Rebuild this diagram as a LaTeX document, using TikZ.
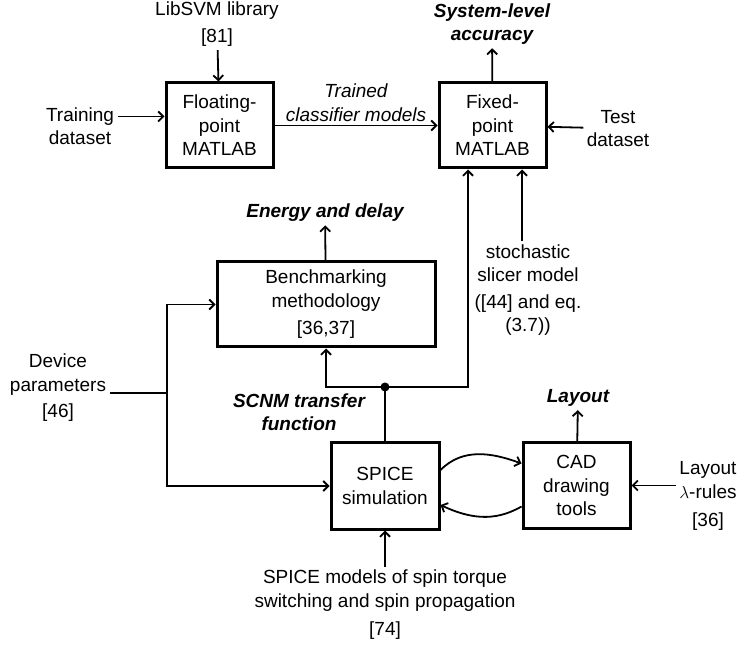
\documentclass[tikz,border=0pt]{standalone}
\usepackage{fontspec}
\setmainfont{Liberation Sans}
\usetikzlibrary{arrows.meta}

\begin{document}
\begin{tikzpicture}[x=1pt, y=-1pt, every node/.style={font=\fontsize{19}{23.5}\selectfont, align=center},
 box/.style={draw, line width=3pt, minimum width=107pt, minimum height=85pt, inner sep=2pt},
 arr/.style={-{Straight Barb[length=5pt,width=10pt,line width=1.8pt]}, line width=1.8pt},
 res/.style={font=\fontsize{19}{23.5}\selectfont\bfseries\itshape}]
\useasboundingbox (0,0) rectangle (740,647);
% blocks
\node[box] (float) at (219.5,125.5) {Floating-\\point\\MATLAB};
\node[box] (fixed) at (492.5,125.5) {Fixed-\\point\\MATLAB};
\node[box, minimum width=218pt] (bench) at (326,304.5) {Benchmarking\\methodology\\[4pt][36,37]};
\node[box, minimum width=108pt, minimum height=86pt] (spice) at (385,486) {SPICE\\simulation};
\node[box] (cad) at (576.5,485.5) {CAD\\drawing\\tools};
% inputs and results
\node (libsvm) at (217,24) {LibSVM library\\[4pt][81]};
\node (train) at (80,126) {Training\\dataset};
\node[res] (sysacc) at (492,24) {System-level\\accuracy};
\node (test) at (618,128.5) {Test\\dataset};
\node[res] (energy) at (325,213) {Energy and delay};
\node (device) at (58,388) {Device\\parameters\\[3pt][46]};
\node[res] (scnm) at (299,412) {SCNM transfer\\function};
\node (stoch) at (528,290) {stochastic\\slicer model\\[3pt]([44] and eq.\\(3.7))};
\node (spicemod) at (385,605) {SPICE models of spin torque\\switching and spin propagation\\[5pt][74]};
\node[res] (layout) at (578,398) {Layout};
\node (rules) at (708,496) {Layout\\$\lambda$-rules\\[5pt][36]};
\coordinate (tin) at ([yshift=9pt]float.west);
\coordinate (split) at (167,393);
\coordinate (jn) at (385,387);
% connectors
\draw[arr] (libsvm) -- (float);
\draw[arr] (train.east |- tin) -- (tin);
\draw[arr] (float) -- (fixed) node[midway, above, font=\fontsize{19}{23.5}\selectfont\itshape] {Trained\\classifier models};
\draw[arr] (fixed) -- (sysacc);
\draw[arr] (test) -- (fixed);
\draw[arr] ([xshift=-6pt]stoch.north) -- ([xshift=29.5pt]fixed.south);
\draw[arr] (bench) -- (energy);
\draw[line width=1.8pt] (device.east |- split) -- (split);
\draw[arr] (split) |- (bench.west);
\draw[arr] (split) |- (spice.west);
\draw[line width=1.8pt] (spice.north) -- (jn);
\draw[arr] (jn) -| (bench.south);
\draw[arr] (jn) -| ([xshift=-24.5pt]fixed.south);
\fill (jn) circle (4.5pt);
\draw[arr] (spicemod) -- (spice);
\draw[arr] (cad) -- (layout);
\draw[arr] (rules.west |- cad.east) -- (cad.east);
\draw[arr] ([yshift=16pt]spice.east) to[out=45, in=160] ([yshift=22pt]cad.west);
\draw[arr] ([yshift=-21pt]cad.west) to[out=-150, in=-25] ([yshift=-19pt]spice.east);
\end{tikzpicture}
\end{document}
